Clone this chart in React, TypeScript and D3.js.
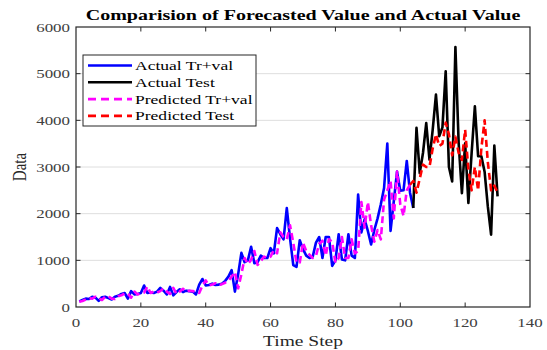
import React from "react";
import * as d3 from "d3";

const title = "Comparision of Forecasted Value and Actual Value";
const xLabel = "Time Step";
const yLabel = "Data";
const xTicks = [0, 20, 40, 60, 80, 100, 120, 140];
const yTicks = [0, 1000, 2000, 3000, 4000, 5000, 6000];
const legendLabels = ["Actual Tr+val", "Actual Test", "Predicted Tr+val", "Predicted Test"];

// Actual training+validation values, time steps 1..104
const actualTrValStart = 1;
const actualTrVal = [
  120, 150, 180, 170, 220, 200, 130, 210, 220, 190,
  160, 220, 240, 280, 300, 180, 340, 270, 280, 300,
  460, 300, 310, 300, 330, 410, 350, 270, 430, 250,
  320, 380, 320, 350, 340, 330, 270, 480, 600, 460,
  470, 500, 470, 480, 500, 560, 650, 790, 330, 700,
  1160, 960, 1000, 1290, 940, 960, 1100, 1050, 1050, 1260,
  1150, 1690, 1560, 1450, 2120, 1470, 900, 860, 1430, 1240,
  1100, 1050, 1080, 1380, 1500, 1050, 1500, 1500, 880, 1000,
  1560, 1020, 1000, 1560, 1100, 1050, 2410, 1600, 1880, 1630,
  1340, 1650, 1900, 2200, 2550, 3500, 1630, 2270, 2900, 2490,
  2500, 3130, 2450, 2120,
];

// Actual test values, time steps 104..130
const actualTestStart = 104;
const actualTest = [
  2120, 3840, 2870, 3300, 3940, 3160, 3800, 4550, 3660, 3850,
  5050, 3000, 2690, 5570, 3510, 2440, 3510, 2230, 3300, 4300,
  3230, 3230, 2900, 2150, 1550, 3460, 2370,
];

// Predicted training+validation values, time steps 1..103
const predTrValStart = 1;
const predTrVal = [
  110, 130, 160, 190, 180, 220, 190, 150, 220, 230,
  180, 170, 230, 250, 290, 290, 200, 330, 270, 290,
  310, 440, 300, 330, 310, 340, 400, 330, 280, 410,
  280, 330, 390, 330, 350, 340, 330, 300, 460, 570,
  460, 480, 510, 470, 490, 520, 560, 650, 750, 400,
  700, 1050, 920, 1010, 1200, 900, 980, 1080, 1050, 1080,
  1220, 1150, 1600, 1500, 1450, 1750, 1380, 950, 950, 1380,
  1200, 1120, 1050, 1100, 1350, 1420, 1100, 1450, 1400, 950,
  1050, 1500, 1050, 1050, 1450, 1150, 1200, 2250, 1700, 2250,
  1750, 1400, 1650, 1450, 2300, 2500, 2700, 1900, 2900, 2200,
  1950, 2500, 2620,
];

// Predicted test values, time steps 103..130
const predTestStart = 103;
const predTest = [
  2620, 2700, 2450, 2750, 3050, 3000, 3000, 3400, 3700, 3450,
  3500, 3950, 3700, 3250, 3650, 3300, 3150, 3800, 2950, 2500,
  3000, 2500, 3400, 4000, 3100, 2500, 2600, 2450,
];

const W = 547;
const H = 350;
const L = 76, R = 530, T = 27, B = 307;
const SX = 1.3;
const axisColor = "#262626";
const font = "'Liberation Serif', 'Times New Roman', serif";

export default function App() {
  const x = d3.scaleLinear().domain([0, 140]).range([L, R]);
  const y = d3.scaleLinear().domain([0, 6000]).range([B, T]);
  const line = d3
    .line<[number, number]>()
    .x((d) => x(d[0]))
    .y((d) => y(d[1]));
  const pts = (start: number, vals: number[]) =>
    vals.map((v, i) => [start + i, v] as [number, number]);

  const series = [
    { d: pts(actualTrValStart, actualTrVal), color: "#0000ff", dash: undefined },
    { d: pts(actualTestStart, actualTest), color: "#000000", dash: undefined },
    { d: pts(predTrValStart, predTrVal), color: "#ff00ff", dash: "7,4" },
    { d: pts(predTestStart, predTest), color: "#ff0000", dash: "7,4" },
  ];
  const tickLen = 4.5;
  const legendX = 83, legendY = 55, legendW = 173, legendH = 71;
  const rowY = [65.5, 82.3, 99.1, 115.9];

  return (
    <svg width={W} height={H} style={{ position: "absolute", left: 0, top: 0, background: "#fff" }}>
      <defs>
        <clipPath id="plotclip">
          <rect x={L} y={T} width={R - L} height={B - T} />
        </clipPath>
      </defs>
      <rect x={0} y={0} width={W} height={H} fill="#fff" />
      {/* grid */}
      {yTicks.slice(1, -1).map((t) => (
        <line key={"g" + t} x1={L} x2={R} y1={y(t)} y2={y(t)} stroke="#dedede" strokeWidth={1} />
      ))}
      {/* series */}
      <g clipPath="url(#plotclip)">
        {series.map((s, i) => (
          <path
            key={i}
            d={line(s.d) || ""}
            fill="none"
            stroke={s.color}
            strokeWidth={2.6}
            strokeDasharray={s.dash}
            strokeLinejoin="round"
          />
        ))}
      </g>
      {/* box */}
      <rect x={L} y={T} width={R - L} height={B - T} fill="none" stroke={axisColor} strokeWidth={1.2} />
      {/* ticks */}
      {xTicks.slice(1, -1).map((t) => (
        <g key={"xt" + t}>
          <line x1={x(t)} x2={x(t)} y1={B} y2={B - tickLen} stroke={axisColor} strokeWidth={1} />
          <line x1={x(t)} x2={x(t)} y1={T} y2={T + tickLen} stroke={axisColor} strokeWidth={1} />
        </g>
      ))}
      {yTicks.slice(1, -1).map((t) => (
        <g key={"yt" + t}>
          <line x1={L} x2={L + tickLen} y1={y(t)} y2={y(t)} stroke={axisColor} strokeWidth={1} />
          <line x1={R} x2={R - tickLen} y1={y(t)} y2={y(t)} stroke={axisColor} strokeWidth={1} />
        </g>
      ))}
      {/* tick labels */}
      {xTicks.map((t) => (
        <text
          key={"xl" + t}
          transform={`translate(${x(t)},327) scale(${SX},1)`}
          textAnchor="middle"
          fontFamily={font}
          fontSize={13}
          fill="#404040"
        >
          {t}
        </text>
      ))}
      {yTicks.map((t) => (
        <text
          key={"yl" + t}
          transform={`translate(70,${y(t) + 4.5}) scale(${SX},1)`}
          textAnchor="end"
          fontFamily={font}
          fontSize={13}
          fill="#404040"
        >
          {t}
        </text>
      ))}
      {/* axis labels */}
      <text
        transform={`translate(${(L + R) / 2},346) scale(${SX},1)`}
        textAnchor="middle"
        fontFamily={font}
        fontSize={15}
        fill="#262626"
      >
        {xLabel}
      </text>
      <text
        transform={`translate(25.5,${(T + B) / 2}) scale(${SX},1) rotate(-90)`}
        textAnchor="middle"
        fontFamily={font}
        fontSize={15}
        fill="#262626"
      >
        {yLabel}
      </text>
      {/* title */}
      <text
        transform={`translate(${(L + R) / 2},20) scale(${SX},1)`}
        textAnchor="middle"
        fontFamily={font}
        fontSize={15.4}
        fontWeight="bold"
        fill="#000"
      >
        {title}
      </text>
      {/* legend */}
      <rect x={legendX} y={legendY} width={legendW} height={legendH} fill="#fff" stroke={axisColor} strokeWidth={1} />
      {legendLabels.map((lab, i) => (
        <g key={lab}>
          <line
            x1={88}
            x2={132}
            y1={rowY[i]}
            y2={rowY[i]}
            stroke={series[i].color}
            strokeWidth={2.6}
            strokeDasharray={series[i].dash ? "8,5" : undefined}
          />
          <text
            transform={`translate(135,${rowY[i] + 4.5}) scale(${SX},1)`}
            fontFamily={font}
            fontSize={13.5}
            fill="#000"
          >
            {lab}
          </text>
        </g>
      ))}
    </svg>
  );
}
